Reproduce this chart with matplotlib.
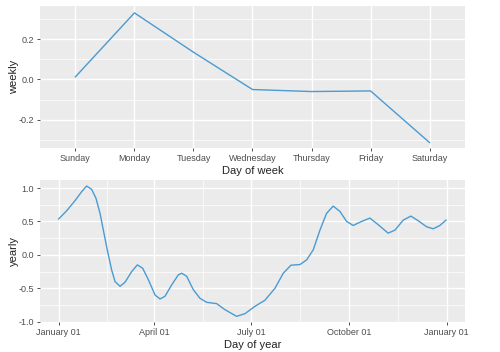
import matplotlib
matplotlib.use("Agg")
import matplotlib.pyplot as plt
from matplotlib.ticker import FixedLocator

plt.rcParams['font.family'] = ['Liberation Sans', 'DejaVu Sans']

# weekly component
days_of_week = ["Sunday", "Monday", "Tuesday", "Wednesday", "Thursday", "Friday", "Saturday"]
weekly = [0.013, 0.330, 0.135, -0.050, -0.060, -0.057, -0.313]

# yearly component (day of year, value)
year_day = [0, 7.5, 15.3, 21.6, 26.3, 31, 35.1, 38.9, 42, 45.7, 49.8, 53, 57.7, 62.4,
            68.7, 74, 79, 84.3, 90.6, 95.3, 100, 106.3, 112.5, 115.7, 120.4, 126.6,
            132.9, 139.2, 148.6, 156.4, 167.4, 175.3, 184.7, 194, 203.5, 211.3, 218.5,
            227, 233.3, 239.5, 245.8, 252, 258.3, 264.6, 270.9, 277.1, 285, 292.9,
            300.7, 310, 316.4, 324.2, 331.4, 338.3, 346.2, 352.4, 358.7, 364.4]
yearly = [0.537, 0.66, 0.81, 0.945, 1.03, 0.98, 0.846, 0.62, 0.37, 0.075, -0.225, -0.40,
          -0.47, -0.41, -0.25, -0.15, -0.20, -0.37, -0.60, -0.66, -0.62, -0.45, -0.30,
          -0.275, -0.32, -0.52, -0.65, -0.71, -0.73, -0.82, -0.92, -0.88, -0.77, -0.68,
          -0.50, -0.275, -0.155, -0.145, -0.075, 0.075, 0.37, 0.62, 0.73, 0.65, 0.50,
          0.44, 0.50, 0.55, 0.45, 0.325, 0.37, 0.52, 0.58, 0.51, 0.42, 0.39, 0.44, 0.52]
year_tick_pos = [0, 90, 181, 273, 365]
year_tick_labels = ["January 01", "April 01", "July 01", "October 01", "January 01"]

LINE = '#4A9BD1'
BG = '#EBEBEB'

fig = plt.figure(figsize=(5.0, 3.52), dpi=100)
ax1 = fig.add_axes([0.08, 0.5795, 0.85, 0.4034])
ax2 = fig.add_axes([0.08, 0.0852, 0.85, 0.4034])

def style(ax):
    ax.set_facecolor(BG)
    for s in ax.spines.values():
        s.set_visible(False)
    ax.grid(True, which='major', color='white', linewidth=1.0)
    ax.grid(True, which='minor', color='white', linewidth=0.5)
    ax.set_axisbelow(True)
    ax.tick_params(which='major', length=2.5, width=0.6, color='#333333',
                   labelsize=6.5, labelcolor='#4D4D4D', pad=2)
    ax.tick_params(which='minor', length=0)

# top
x = list(range(len(days_of_week)))
ax1.plot(x, weekly, color=LINE, linewidth=1.0)
ax1.set_xlim(-0.6, 6.6)
ax1.set_ylim(-0.340, 0.364)
ax1.set_xticks(x)
ax1.set_xticklabels(days_of_week)
ax1.set_yticks([-0.2, 0.0, 0.2])
ax1.set_yticklabels(["-0.2", "0.0", "0.2"])
ax1.yaxis.set_minor_locator(FixedLocator([-0.3, -0.1, 0.1, 0.3]))
style(ax1)
ax1.grid(False, which='minor', axis='x')
ax1.set_xlabel("Day of week", fontsize=8, color='#222222', labelpad=2)
ax1.set_ylabel("weekly", fontsize=8, color='#222222')
ax1.yaxis.set_label_coords(-0.049, 0.5)

# bottom
ax2.plot(year_day, yearly, color=LINE, linewidth=1.0, solid_joinstyle='round')
ax2.set_xlim(-17.6, 382.3)
ax2.set_ylim(-1.005, 1.12)
ax2.set_xticks(year_tick_pos)
ax2.set_xticklabels(year_tick_labels)
ax2.xaxis.set_minor_locator(FixedLocator([45, 135.5, 227, 319]))
ax2.set_yticks([-1.0, -0.5, 0.0, 0.5, 1.0])
ax2.set_yticklabels(["-1.0", "-0.5", "0.0", "0.5", "1.0"])
ax2.yaxis.set_minor_locator(FixedLocator([-0.75, -0.25, 0.25, 0.75]))
style(ax2)
ax2.set_xlabel("Day of year", fontsize=8, color='#222222', labelpad=2)
ax2.set_ylabel("yearly", fontsize=8, color='#222222')
ax2.yaxis.set_label_coords(-0.049, 0.5)

fig.savefig("out.png", dpi=100)
